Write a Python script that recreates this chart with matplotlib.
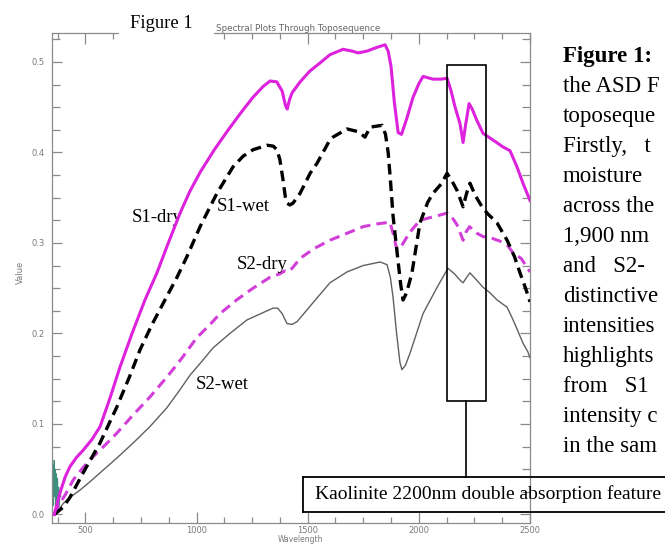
import matplotlib
matplotlib.use("Agg")
import matplotlib.pyplot as plt
from matplotlib.patches import Rectangle
from matplotlib.lines import Line2D
from matplotlib.ticker import MultipleLocator, FormatStrFormatter

# ---------------- data ----------------
s1_dry_wl = [360, 386, 410, 431, 460, 490, 530, 566, 610, 656, 710, 768, 822, 870, 926, 970,
             1016, 1080, 1137, 1200, 1254, 1300, 1331, 1361, 1385, 1400, 1408, 1418, 1430, 1466,
             1510, 1556, 1600, 1659, 1700, 1727, 1767, 1810, 1848, 1862, 1875, 1890, 1907, 1922,
             1945, 1974, 2000, 2019, 2064, 2100, 2127, 2145, 2163, 2185, 2199, 2210, 2226, 2240,
             2260, 2289, 2320, 2350, 2379, 2410, 2440, 2470, 2500]
s1_dry_val = [0.0, 0.024, 0.042, 0.053, 0.063, 0.071, 0.083, 0.097, 0.128, 0.163, 0.200, 0.237,
              0.267, 0.298, 0.333, 0.357, 0.378, 0.403, 0.423, 0.444, 0.461, 0.473, 0.479, 0.478,
              0.468, 0.452, 0.448, 0.458, 0.466, 0.478, 0.490, 0.499, 0.508, 0.514, 0.512, 0.510,
              0.512, 0.516, 0.519, 0.512, 0.495, 0.455, 0.422, 0.420, 0.437, 0.461, 0.476, 0.484,
              0.481, 0.481, 0.482, 0.468, 0.450, 0.432, 0.411, 0.430, 0.454, 0.448, 0.436, 0.421,
              0.416, 0.411, 0.406, 0.402, 0.385, 0.365, 0.347]

s1_wet_wl = [360, 400, 431, 490, 566, 642, 700, 746, 800, 858, 912, 957, 1016, 1092, 1164,
             1210, 1254, 1317, 1345, 1362, 1375, 1389, 1400, 1407, 1420, 1434, 1466, 1511, 1542,
             1600, 1614, 1677, 1727, 1758, 1781, 1835, 1850, 1862, 1872, 1884, 1902, 1918, 1929,
             1945, 1969, 2005, 2040, 2064, 2100, 2127, 2150, 2172, 2199, 2215, 2230, 2255, 2284,
             2307, 2352, 2397, 2430, 2455, 2480, 2500]
s1_wet_val = [0.0, 0.008, 0.019, 0.046, 0.079, 0.119, 0.153, 0.182, 0.210, 0.237, 0.262, 0.285,
              0.318, 0.355, 0.384, 0.396, 0.403, 0.408, 0.407, 0.403, 0.392, 0.370, 0.350, 0.344,
              0.342, 0.344, 0.355, 0.377, 0.388, 0.414, 0.417, 0.426, 0.423, 0.417, 0.428, 0.430,
              0.420, 0.400, 0.370, 0.330, 0.290, 0.255, 0.237, 0.245, 0.267, 0.322, 0.345, 0.355,
              0.365, 0.377, 0.368, 0.358, 0.340, 0.355, 0.366, 0.352, 0.340, 0.333, 0.322, 0.303,
              0.285, 0.267, 0.250, 0.235]

s2_dry_wl = [360, 380, 410, 445, 490, 535, 590, 642, 715, 791, 850, 900, 941, 1000, 1061, 1106,
             1180, 1254, 1330, 1376, 1395, 1410, 1430, 1466, 1530, 1600, 1680, 1749, 1810, 1870,
             1885, 1902, 1920, 1960, 2005, 2050, 2082, 2127, 2150, 2172, 2199, 2212, 2228, 2260,
             2289, 2320, 2365, 2397, 2424, 2460, 2487, 2500]
s2_dry_val = [0.0, 0.010, 0.022, 0.038, 0.052, 0.064, 0.077, 0.090, 0.110, 0.130, 0.147, 0.162,
              0.175, 0.195, 0.210, 0.222, 0.237, 0.250, 0.262, 0.266, 0.269, 0.268, 0.272, 0.283,
              0.294, 0.303, 0.311, 0.318, 0.321, 0.323, 0.310, 0.292, 0.296, 0.312, 0.325, 0.328,
              0.330, 0.333, 0.328, 0.320, 0.303, 0.312, 0.318, 0.311, 0.307, 0.306, 0.302, 0.298,
              0.289, 0.283, 0.273, 0.268]

s2_wet_wl = [360, 380, 400, 431, 476, 520, 566, 640, 715, 790, 867, 926, 971, 1020, 1074, 1150,
             1227, 1290, 1344, 1365, 1385, 1407, 1430, 1452, 1524, 1600, 1677, 1749, 1826, 1857,
             1872, 1884, 1900, 1915, 1924, 1940, 1960, 2019, 2082, 2131, 2160, 2185, 2199, 2215,
             2230, 2260, 2289, 2320, 2352, 2397, 2424, 2450, 2469, 2490, 2500]
s2_wet_val = [0.0, 0.005, 0.012, 0.019, 0.027, 0.036, 0.046, 0.062, 0.079, 0.097, 0.118, 0.138,
              0.154, 0.168, 0.184, 0.200, 0.215, 0.222, 0.228, 0.228, 0.222, 0.211, 0.210, 0.213,
              0.234, 0.256, 0.268, 0.275, 0.279, 0.276, 0.262, 0.240, 0.200, 0.168, 0.160, 0.165,
              0.178, 0.222, 0.251, 0.272, 0.266, 0.259, 0.256, 0.262, 0.267, 0.259, 0.251, 0.245,
              0.237, 0.229, 0.215, 0.200, 0.189, 0.180, 0.173]

noise_wl = [352, 355, 357, 360, 362, 365, 367, 370, 372, 375, 378, 380, 383, 386, 390]
noise_val = [0.030, 0.055, 0.010, 0.060, 0.020, 0.050, 0.000, 0.045, 0.015, 0.040, 0.005,
             0.030, 0.010, 0.025, 0.020]

x_ticks = [500, 1000, 1500, 2000, 2500]
series_labels = ["S1-dry", "S1-wet", "S2-dry", "S2-wet"]

feature_box = [2125, 2300, 0.125, 0.497]   # wavelength range and value range of the marked region
feature_text = "Kaolinite 2200nm double absorption feature"

paragraph = ["Figure 1:", "the ASD F", "toposeque", "Firstly,   t", "moisture",
             "across the", "1,900 nm", "and   S2-", "distinctive", "intensities",
             "highlights", "from   S1", "intensity c", "in the sam"]

# ---------------- figure ----------------
W, H = 665, 544
fig = plt.figure(figsize=(W / 100, H / 100), dpi=100)
fig.patch.set_facecolor("white")


def fx(px):
    return px / W


def fy(py):
    return 1 - py / H


ax = fig.add_axes([fx(52), fy(523), fx(530) - fx(52), fy(33) - fy(523)])
ax.set_xlim(350, 2500)
ax.set_ylim(-0.0094, 0.532)

magenta = "#dd22dd"
ax.plot(noise_wl, noise_val, color="#3f8f80", lw=0.8, zorder=2)
ax.plot(s2_wet_wl, s2_wet_val, color="#606060", lw=1.0, zorder=3)
ax.plot(s2_dry_wl, s2_dry_val, color="#d23fd8", lw=2.2, dashes=(3.4, 2.0), zorder=3)
ax.plot(s1_wet_wl, s1_wet_val, color="black", lw=2.4, dashes=(3.2, 1.8), zorder=4)
ax.plot(s1_dry_wl, s1_dry_val, color=magenta, lw=2.2, zorder=5)

# marked region + connector
x0, x1, y0, y1 = feature_box
ax.add_patch(Rectangle((x0, y0), x1 - x0, y1 - y0, fill=False, ec="black", lw=1.2, zorder=6))
xc = 2212
ax.plot([xc, xc], [0.0414, y0], color="black", lw=1.2, zorder=6, clip_on=False)

# series labels
lab_pos = [(822, 0.3276), (1209, 0.3398), (1295, 0.2757), (1115, 0.1431)]
for lab, (lx, ly) in zip(series_labels, lab_pos):
    ax.text(lx, ly, lab, fontsize=13.5, family="Liberation Serif", ha="center",
            va="center", zorder=4)

# axes styling
for sp in ax.spines.values():
    sp.set_color("#8a8a8a")
    sp.set_linewidth(0.9)
ax.set_xticks(x_ticks)
ax.xaxis.set_minor_locator(MultipleLocator(125))
ax.yaxis.set_major_locator(MultipleLocator(0.1))
ax.yaxis.set_minor_locator(MultipleLocator(0.025))
ax.yaxis.set_major_formatter(FormatStrFormatter("%.1f"))
ax.tick_params(which="both", direction="in", top=True, right=True, color="#8a8a8a",
               labelcolor="#7a7a7a", labelsize=6, width=0.9)
ax.tick_params(axis="x", which="major", length=8, pad=2)
ax.tick_params(axis="x", which="minor", length=4)
ax.tick_params(axis="y", which="major", length=7, pad=5)
ax.tick_params(axis="y", which="minor", length=6)

fig.text(fx(20), fy(272), "Value", rotation=90, fontsize=6, color="#7a7a7a",
         ha="center", va="center")
fig.text(fx(300), fy(540), "Wavelength", fontsize=5.5, color="#7a7a7a", ha="center", va="center")

# header
fig.add_artist(Rectangle((fx(119), fy(45)), fx(214) - fx(119), fy(6) - fy(45),
                         transform=fig.transFigure, fc="white", ec="none", zorder=5))
fig.text(fx(161), fy(24), "Figure 1", fontsize=13.3, family="Liberation Serif",
         ha="center", va="center", zorder=6)
fig.text(fx(216), fy(31), "Spectral Plots Through Toposequence", fontsize=6.3,
         color="#666666", ha="left", va="baseline", zorder=6)

# annotation box (runs off the right edge)
by0, by1, bx = 477, 512, 303
for yy in (by0, by1):
    fig.add_artist(Line2D([fx(bx), 1.0], [fy(yy), fy(yy)], transform=fig.transFigure,
                          color="black", lw=1.3, zorder=7))
fig.add_artist(Line2D([fx(bx), fx(bx)], [fy(by0), fy(by1)], transform=fig.transFigure,
                      color="black", lw=1.3, zorder=7))
fig.text(fx(315), fy(494), feature_text, fontsize=14, family="Liberation Serif",
         ha="left", va="center", zorder=7)

# paragraph at right
for i, line in enumerate(paragraph):
    fig.text(fx(563), fy(54 + 30 * i), line, fontsize=16.5, family="Liberation Serif",
             fontweight="bold" if i == 0 else "normal", ha="left", va="center_baseline")

fig.savefig("out.png", dpi=100)
